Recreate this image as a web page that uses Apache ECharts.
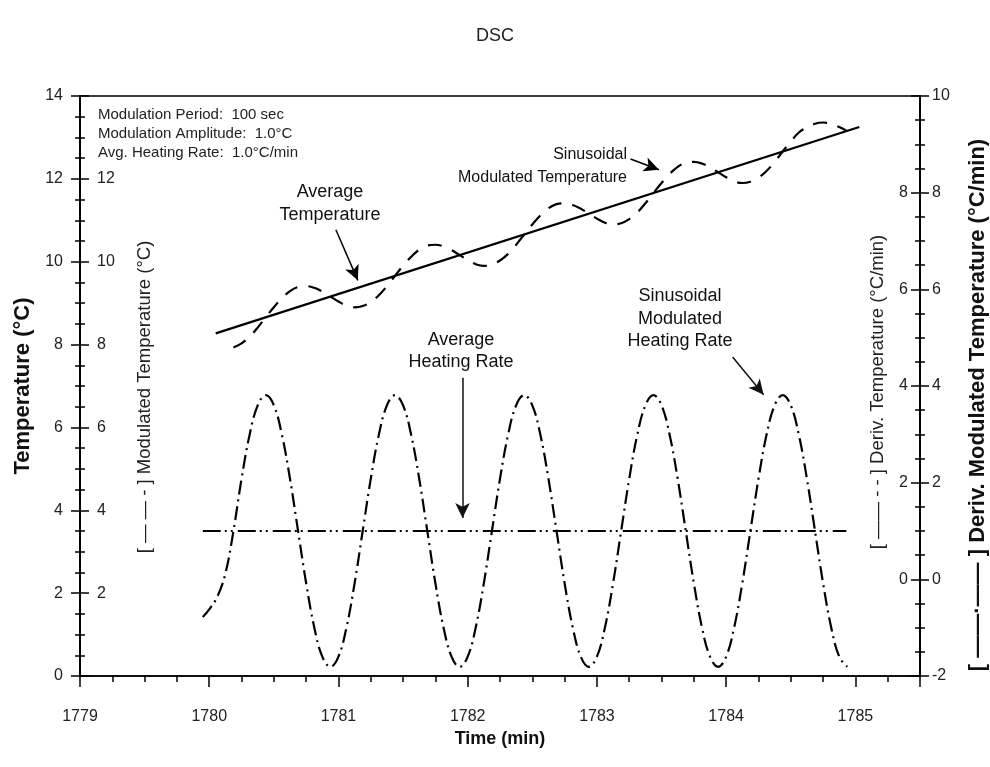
<!DOCTYPE html>
<html>
<head>
<meta charset="utf-8">
<script src="https://cdn.jsdelivr.net/npm/echarts@6/dist/echarts.min.js"></script>
<style>
html,body{margin:0;padding:0;background:#fff;}
#chart{width:990px;height:767px;}
</style>
</head>
<body>
<div id="chart"></div>
<script>
// ---- data ----
const xTickLabels = [1779, 1780, 1781, 1782, 1783, 1784, 1785];
const leftTicks = [0, 2, 4, 6, 8, 10, 12, 14];
const rightTicks = [-2, 0, 2, 4, 6, 8, 10];

// Average temperature (solid line)
const avgTempTimes = [1780.05, 1785.03];
const avgTempValues = [8.27, 13.25];

// Sample times (min) for the modulated curves
const timeGrid = [
  1780, 1780.0625, 1780.125, 1780.1875, 1780.25, 1780.3125, 1780.375, 1780.4375, 1780.5, 1780.5625, 1780.625, 1780.6875, 1780.75, 1780.8125, 1780.875, 1780.9375,
  1781, 1781.0625, 1781.125, 1781.1875, 1781.25, 1781.3125, 1781.375, 1781.4375, 1781.5, 1781.5625, 1781.625, 1781.6875, 1781.75, 1781.8125, 1781.875, 1781.9375,
  1782, 1782.0625, 1782.125, 1782.1875, 1782.25, 1782.3125, 1782.375, 1782.4375, 1782.5, 1782.5625, 1782.625, 1782.6875, 1782.75, 1782.8125, 1782.875, 1782.9375,
  1783, 1783.0625, 1783.125, 1783.1875, 1783.25, 1783.3125, 1783.375, 1783.4375, 1783.5, 1783.5625, 1783.625, 1783.6875, 1783.75, 1783.8125, 1783.875, 1783.9375,
  1784, 1784.0625, 1784.125, 1784.1875, 1784.25, 1784.3125, 1784.375, 1784.4375, 1784.5, 1784.5625, 1784.625, 1784.6875, 1784.75, 1784.8125, 1784.875, 1784.9375
];

// Sinusoidal modulated temperature (dashed), °C, left axis
const modTemp = [
  null, null, null, 7.93, 8.03, 8.19, 8.41, 8.66, 8.90, 9.12, 9.29, 9.39, 9.41, 9.37, 9.28, 9.16,
  9.04, 8.94, 8.90, 8.93, 9.03, 9.19, 9.41, 9.66, 9.90, 10.12, 10.29, 10.39, 10.41, 10.37, 10.28, 10.16,
  10.04, 9.94, 9.90, 9.93, 10.03, 10.19, 10.41, 10.66, 10.90, 11.12, 11.29, 11.39, 11.41, 11.37, 11.28, 11.16,
  11.04, 10.94, 10.90, 10.93, 11.03, 11.19, 11.41, 11.66, 11.90, 12.12, 12.29, 12.39, 12.41, 12.37, 12.28, 12.16,
  12.04, 11.94, 11.90, 11.93, 12.03, 12.19, 12.41, 12.66, 12.90, 13.12, 13.24, 13.33, 13.36, 13.33, 13.25, 13.15
];

// Sinusoidal modulated heating rate (dash-dot), °C/min, right axis
const rateLeadTime = 1779.95;
const rateLeadValue = -0.78;
const modRate = [
  -0.62, -0.36, 0.12, 1.00, 2.08, 2.99, 3.60, 3.81, 3.60, 2.99, 2.08, 1.00, -0.08, -0.99, -1.60, -1.81,
  -1.60, -0.99, -0.08, 1.00, 2.08, 2.99, 3.60, 3.81, 3.60, 2.99, 2.08, 1.00, -0.08, -0.99, -1.60, -1.81,
  -1.60, -0.99, -0.08, 1.00, 2.08, 2.99, 3.60, 3.81, 3.60, 2.99, 2.08, 1.00, -0.08, -0.99, -1.60, -1.81,
  -1.60, -0.99, -0.08, 1.00, 2.08, 2.99, 3.60, 3.81, 3.60, 2.99, 2.08, 1.00, -0.08, -0.99, -1.60, -1.81,
  -1.60, -0.99, -0.08, 1.00, 2.08, 2.99, 3.60, 3.81, 3.60, 2.99, 2.08, 1.00, -0.08, -0.99, -1.60, -1.81
];

// Average heating rate (dash-dot-dot), °C/min, right axis
const avgRateTimes = [1779.95, 1784.93];
const avgRateValues = [1.0, 1.0];

// Annotation arrows [from, to] in data units
const tempArrows = [
  [[1780.98, 10.77], [1781.15, 9.55]],   // Average Temperature
  [[1783.26, 12.48], [1783.48, 12.22]]   // Sinusoidal Modulated Temperature
];
const rateArrows = [
  [[1781.96, 4.17], [1781.96, 1.27]],    // Average Heating Rate
  [[1784.05, 4.60], [1784.29, 3.82]]     // Sinusoidal Modulated Heating Rate
];

// ---- build ----
const FONT = 'Liberation Sans, Arial, Helvetica, sans-serif';
const pairs = (xs, ys) => xs.map((x, i) => [x, ys[i]]).filter(p => p[1] !== null);

const chart = echarts.init(document.getElementById('chart'), null, {renderer: 'canvas'});

const blackLine = {color: '#000', width: 1.5};
function yAx(pos, min, max, inside, margin, hideEnds, name, nameGap) {
  return {
    type: 'value', position: pos, min: min, max: max, interval: 2, offset: 0,
    axisLine: {show: true, onZero: false, lineStyle: blackLine},
    axisTick: {show: true, inside: inside, length: 9, lineStyle: blackLine},
    minorTick: {show: true, splitNumber: 4, length: 5, lineStyle: blackLine},
    splitLine: {show: false},
    axisLabel: {show: true, inside: inside, margin: margin, fontSize: 16, color: '#222', fontFamily: FONT,
      showMinLabel: !hideEnds, showMaxLabel: !hideEnds},
    name: name || '', nameLocation: 'middle', nameRotate: 90, nameGap: nameGap || 0,
    nameTextStyle: {fontSize: 22, fontWeight: 'bold', color: '#111', fontFamily: FONT}
  };
}

const option = {
  animation: false,
  backgroundColor: '#fff',
  title: {text: 'DSC', left: 'center', top: 22,
    textStyle: {fontSize: 18, fontWeight: 'normal', color: '#222', fontFamily: FONT}},
  grid: {left: 80, right: 70, top: 96, bottom: 91, show: true, borderColor: '#000', borderWidth: 1.5},
  xAxis: {
    type: 'value', min: xTickLabels[0], max: 1785.5, interval: 1,
    axisLine: {show: true, onZero: false, lineStyle: blackLine},
    axisTick: {show: true, length: 11, lineStyle: blackLine},
    minorTick: {show: true, splitNumber: 4, length: 6, lineStyle: blackLine},
    splitLine: {show: false},
    axisLabel: {margin: 33, fontSize: 16, color: '#222', fontFamily: FONT, showMaxLabel: false,
      formatter: v => (xTickLabels.indexOf(v) >= 0 ? String(v) : '')},
    name: 'Time (min)', nameLocation: 'middle', nameGap: 54,
    nameTextStyle: {fontSize: 18, fontWeight: 'bold', color: '#111', fontFamily: FONT}
  },
  yAxis: [
    yAx('left', leftTicks[0], leftTicks[leftTicks.length - 1], false, 17, false, 'Temperature (°C)', 39),
    yAx('left', leftTicks[0], leftTicks[leftTicks.length - 1], true, 17, true),
    yAx('right', rightTicks[0], rightTicks[rightTicks.length - 1], false, 12, false),
    yAx('right', rightTicks[0], rightTicks[rightTicks.length - 1], true, 12, true)
  ],
  series: [
    {
      name: 'Average Temperature', type: 'line', yAxisIndex: 0, showSymbol: false, symbol: 'none',
      data: pairs(avgTempTimes, avgTempValues),
      lineStyle: {color: '#000', width: 2.2, type: 'solid'},
      markLine: {
        silent: true, symbol: ['none', 'arrow'], symbolSize: [11, 15],
        label: {show: false}, lineStyle: {color: '#000', width: 1.5, type: 'solid'},
        data: tempArrows.map(a => [{coord: a[0]}, {coord: a[1]}])
      }
    },
    {
      name: 'Sinusoidal Modulated Temperature', type: 'line', yAxisIndex: 0, showSymbol: false, symbol: 'none',
      smooth: 0.4,
      data: pairs(timeGrid, modTemp),
      lineStyle: {color: '#000', width: 2.2, type: [14, 11], cap: 'butt'}
    },
    {
      name: 'Sinusoidal Modulated Heating Rate', type: 'line', yAxisIndex: 2, showSymbol: false, symbol: 'none',
      smooth: 0.4,
      data: [[rateLeadTime, rateLeadValue]].concat(pairs(timeGrid, modRate)),
      lineStyle: {color: '#000', width: 2.2, type: [14, 5, 2, 5], cap: 'butt'}
    },
    {
      name: 'Average Heating Rate', type: 'line', yAxisIndex: 2, showSymbol: false, symbol: 'none',
      data: pairs(avgRateTimes, avgRateValues),
      lineStyle: {color: '#000', width: 2.2, type: [18, 4, 2, 4, 2, 5], cap: 'butt'},
      markLine: {
        silent: true, symbol: ['none', 'arrow'], symbolSize: [11, 15],
        label: {show: false}, lineStyle: {color: '#111', width: 1.5, type: 'solid'},
        data: rateArrows.map(a => [{coord: a[0]}, {coord: a[1]}])
      }
    }
  ],
  graphic: [
    {type: 'text', left: 98, top: 105, silent: true,
      style: {text: 'Modulation Period:  100 sec\nModulation Amplitude:  1.0°C\nAvg. Heating Rate:  1.0°C/min',
        font: '15px ' + FONT, fill: '#222', lineHeight: 19}},
    {type: 'text', x: 330, y: 204, silent: true,
      style: {text: 'Average\nTemperature', font: '18px ' + FONT, fill: '#111', align: 'center', verticalAlign: 'middle', lineHeight: 23}},
    {type: 'text', x: 627, y: 166, silent: true,
      style: {text: 'Sinusoidal\nModulated Temperature', font: '16px ' + FONT, fill: '#111', align: 'right', verticalAlign: 'middle', lineHeight: 23}},
    {type: 'text', x: 461, y: 351, silent: true,
      style: {text: 'Average\nHeating Rate', font: '18px ' + FONT, fill: '#111', align: 'center', verticalAlign: 'middle', lineHeight: 22}},
    {type: 'text', x: 680, y: 319, silent: true,
      style: {text: 'Sinusoidal\nModulated\nHeating Rate', font: '18px ' + FONT, fill: '#111', align: 'center', verticalAlign: 'middle', lineHeight: 22.5}},
    {type: 'text', x: 145, y: 397, rotation: Math.PI / 2, silent: true,
      style: {text: '[ — — - ] Modulated Temperature (°C)', font: '18.5px ' + FONT, fill: '#222', align: 'center', verticalAlign: 'middle'}},
    {type: 'text', x: 878, y: 392, rotation: Math.PI / 2, silent: true,
      style: {text: '[ —— - - ] Deriv. Temperature (°C/min)', font: '18.5px ' + FONT, fill: '#222', align: 'center', verticalAlign: 'middle'}},
    {type: 'text', x: 978, y: 405, rotation: Math.PI / 2, silent: true,
      style: {text: '[ ——·—— ] Deriv. Modulated Temperature (°C/min)', font: 'bold 22px ' + FONT, fill: '#111', align: 'center', verticalAlign: 'middle'}}
  ]
};
chart.setOption(option);
</script>
</body>
</html>
